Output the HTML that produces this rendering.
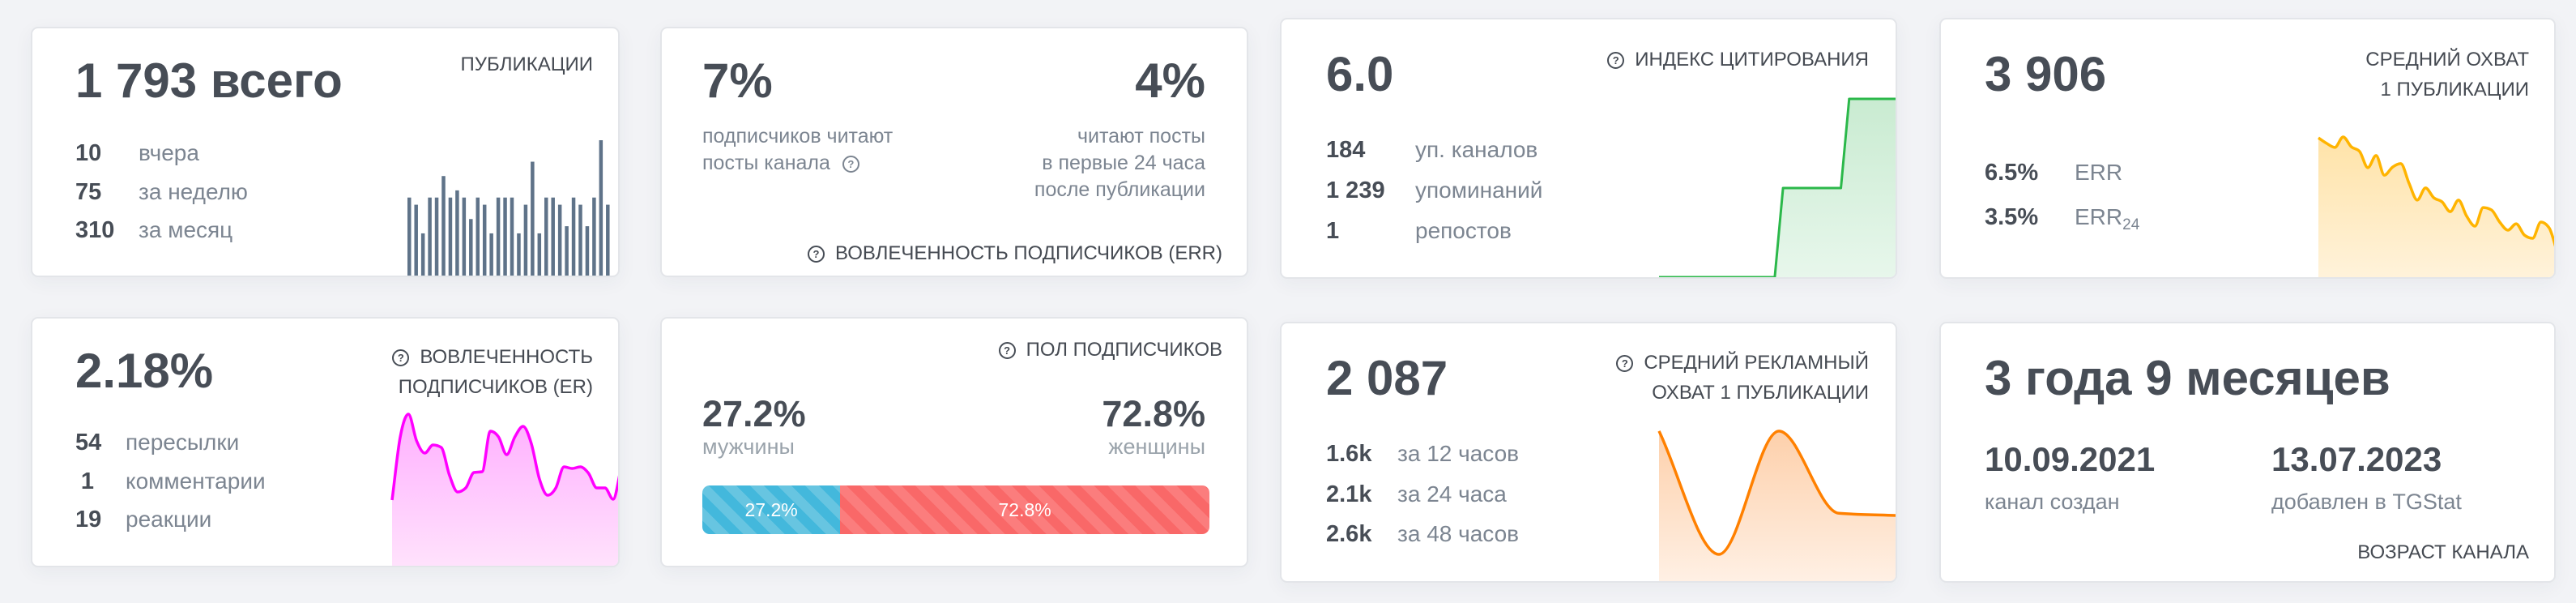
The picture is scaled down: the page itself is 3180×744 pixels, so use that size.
<!DOCTYPE html>
<html><head><meta charset="utf-8">
<style>
html,body{margin:0;padding:0;}
body{width:3180px;height:744px;background:#f2f3f6;position:relative;overflow:hidden;font-family:"Liberation Sans","DejaVu Sans",sans-serif;color:#474d56;}
.card{position:absolute;background:#fff;border:2px solid #e3e5e9;border-radius:9px;box-sizing:border-box;overflow:hidden;box-shadow:0 6px 24px rgba(40,50,70,0.05);}
.a{position:absolute;white-space:nowrap;}
.big{font-size:60px;font-weight:bold;line-height:1;}
.ttl{font-size:24px;line-height:37px;text-align:right;color:#454a52;}
.num{font-size:29px;font-weight:bold;line-height:1;}
.lbl{font-size:28px;line-height:1;color:#7c8591;}
.q{display:inline-block;width:17px;height:17px;border:2px solid #474d56;border-radius:50%;font-size:13px;line-height:17px;text-align:center;font-weight:bold;vertical-align:2px;margin-right:13px;}
.sub{font-size:25px;line-height:33px;color:#7c8591;}
svg{position:absolute;}
</style></head><body>

<div class="card" style="left:38px;top:33px;width:727px;height:309px;">
  <div class="a big" style="left:53px;top:35px;">1 793 всего</div>
  <div class="a ttl" style="right:31px;top:26px;">ПУБЛИКАЦИИ</div>
  <div class="a num" style="left:53px;top:140px;">10</div>
  <div class="a lbl" style="left:131px;top:140px;">вчера</div>
  <div class="a num" style="left:53px;top:188px;">75</div>
  <div class="a lbl" style="left:131px;top:188px;">за неделю</div>
  <div class="a num" style="left:53px;top:235px;">310</div>
  <div class="a lbl" style="left:131px;top:235px;">за месяц</div>
  <svg id="pubChart" style="left:460px;top:135px;" width="265" height="172"></svg>
</div>

<div class="card" style="left:815px;top:33px;width:726px;height:309px;">
  <div class="a big" style="left:50px;top:35px;">7%</div>
  <div class="a big" style="right:51px;top:35px;">4%</div>
  <div class="a sub" style="left:50px;top:117px;">подписчиков читают<br>посты канала <span class="q" style="border-color:#7c8591;color:#7c8591;margin-left:8px;">?</span></div>
  <div class="a sub" style="right:51px;top:117px;text-align:right;">читают посты<br>в первые 24 часа<br>после публикации</div>
  <div class="a ttl" style="right:30px;top:259px;"><span class="q">?</span>ВОВЛЕЧЕННОСТЬ ПОДПИСЧИКОВ (ERR)</div>
</div>

<div class="card" style="left:1580px;top:22px;width:762px;height:322px;">
  <div class="a big" style="left:55px;top:38px;">6.0</div>
  <div class="a ttl" style="right:33px;top:31px;"><span class="q">?</span>ИНДЕКС ЦИТИРОВАНИЯ</div>
  <div class="a num" style="left:55px;top:147px;">184</div>
  <div class="a lbl" style="left:165px;top:147px;">уп. каналов</div>
  <div class="a num" style="left:55px;top:197px;">1 239</div>
  <div class="a lbl" style="left:165px;top:197px;">упоминаний</div>
  <div class="a num" style="left:55px;top:247px;">1</div>
  <div class="a lbl" style="left:165px;top:247px;">репостов</div>
  <svg id="citeChart" style="left:464px;top:76px;" width="298" height="244"></svg>
</div>

<div class="card" style="left:2394px;top:22px;width:761px;height:322px;">
  <div class="a big" style="left:54px;top:38px;">3 906</div>
  <div class="a ttl" style="right:31px;top:31px;">СРЕДНИЙ ОХВАТ<br>1 ПУБЛИКАЦИИ</div>
  <div class="a num" style="left:54px;top:175px;">6.5%</div>
  <div class="a lbl" style="left:165px;top:175px;">ERR</div>
  <div class="a num" style="left:54px;top:230px;">3.5%</div>
  <div class="a lbl" style="left:165px;top:230px;">ERR<sub style="font-size:19px;vertical-align:-6px;">24</sub></div>
  <svg id="reachChart" style="left:464px;top:126px;" width="297" height="194"></svg>
</div>

<div class="card" style="left:38px;top:391px;width:727px;height:309px;">
  <div class="a big" style="left:53px;top:35px;">2.18%</div>
  <div class="a ttl" style="right:31px;top:29px;"><span class="q">?</span>ВОВЛЕЧЕННОСТЬ<br>ПОДПИСЧИКОВ (ER)</div>
  <div class="a num" style="left:53px;top:139px;width:30px;text-align:center;">54</div>
  <div class="a lbl" style="left:115px;top:139px;">пересылки</div>
  <div class="a num" style="left:53px;top:187px;width:30px;text-align:center;">1</div>
  <div class="a lbl" style="left:115px;top:187px;">комментарии</div>
  <div class="a num" style="left:53px;top:234px;width:30px;text-align:center;">19</div>
  <div class="a lbl" style="left:115px;top:234px;">реакции</div>
  <svg id="erChart" style="left:442px;top:105px;" width="285" height="202"></svg>
</div>

<div class="card" style="left:815px;top:391px;width:726px;height:309px;">
  <div class="a ttl" style="right:30px;top:20px;"><span class="q">?</span>ПОЛ ПОДПИСЧИКОВ</div>
  <div class="a" style="left:50px;top:95px;font-size:45px;font-weight:bold;line-height:1;">27.2%</div>
  <div class="a" style="right:51px;top:95px;font-size:45px;font-weight:bold;line-height:1;">72.8%</div>
  <div class="a" style="left:50px;top:145px;font-size:27px;line-height:1;color:#9aa3ab;">мужчины</div>
  <div class="a" style="right:51px;top:145px;font-size:27px;line-height:1;color:#9aa3ab;">женщины</div>
  <div class="a" style="left:50px;top:206px;width:626px;height:60px;border-radius:9px;overflow:hidden;display:flex;">
    <div style="width:27.2%;height:100%;background:repeating-linear-gradient(45deg,#43b8dc 0 12px,#67c5e1 12px 24px);color:#fff;font-size:23px;line-height:60px;text-align:center;">27.2%</div>
    <div style="width:72.8%;height:100%;background:repeating-linear-gradient(45deg,#f96868 0 12px,#fb7d7d 12px 24px);color:#fff;font-size:23px;line-height:60px;text-align:center;">72.8%</div>
  </div>
</div>

<div class="card" style="left:1580px;top:397px;width:762px;height:322px;">
  <div class="a big" style="left:55px;top:38px;">2 087</div>
  <div class="a ttl" style="right:33px;top:30px;"><span class="q">?</span>СРЕДНИЙ РЕКЛАМНЫЙ<br>ОХВАТ 1 ПУБЛИКАЦИИ</div>
  <div class="a num" style="left:55px;top:147px;">1.6k</div>
  <div class="a lbl" style="left:143px;top:147px;">за 12 часов</div>
  <div class="a num" style="left:55px;top:197px;">2.1k</div>
  <div class="a lbl" style="left:143px;top:197px;">за 24 часа</div>
  <div class="a num" style="left:55px;top:246px;">2.6k</div>
  <div class="a lbl" style="left:143px;top:246px;">за 48 часов</div>
  <svg id="adChart" style="left:464px;top:119px;" width="298" height="202"></svg>
</div>

<div class="card" style="left:2394px;top:397px;width:761px;height:322px;">
  <div class="a big" style="left:54px;top:38px;">3 года 9 месяцев</div>
  <div class="a" style="left:54px;top:147px;font-size:42px;font-weight:bold;line-height:1;">10.09.2021</div>
  <div class="a" style="left:408px;top:147px;font-size:42px;font-weight:bold;line-height:1;">13.07.2023</div>
  <div class="a lbl" style="left:54px;top:207px;font-size:27px;">канал создан</div>
  <div class="a lbl" style="left:408px;top:207px;font-size:27px;">добавлен в TGStat</div>
  <div class="a ttl" style="right:31px;top:264px;">ВОЗРАСТ КАНАЛА</div>
</div>

<script>
const pubValues = [11,10,6,11,11,14,11,12,11,8,11,10,6,11,11,11,6,10,16,6,11,11,10,7,11,10,7,11,19,10];
const citeValues = [0,0,0,0,0,0,0,0,0,0,0,0,0,0,0,1,1,1,1,1,1,1,1,2,2,2,2,2,2,2];
const reachValues = [4870,4680,4540,4900,4560,4400,3840,4260,3580,3860,3980,3300,2720,3140,2800,2660,2320,2720,2160,1820,2460,2380,1960,1680,1900,1510,1400,1960,1760,900];
const erValues = [82,160,188,155,140,150,147,113,92,97,116,117,167,160,138,160,173,152,108,88,97,123,121,123,115,97,97,83,123];
const adValues = [2620,490,2620,1200,1160];

const NS = 'http://www.w3.org/2000/svg';
function mk(tag, attrs){ const e=document.createElementNS(NS,tag); for(const k in attrs) e.setAttribute(k,attrs[k]); return e; }

function monotonePath(pts){
  const n=pts.length; if(n<2) return '';
  const dx=[],m=[],t=[];
  for(let i=0;i<n-1;i++){ dx[i]=pts[i+1][0]-pts[i][0]; m[i]=(pts[i+1][1]-pts[i][1])/dx[i]; }
  t[0]=m[0]; t[n-1]=m[n-2];
  for(let i=1;i<n-1;i++){
    if(m[i-1]*m[i]<=0) t[i]=0;
    else { const h0=dx[i-1],h1=dx[i]; const p=(m[i-1]*h1+m[i]*h0)/(h0+h1);
      t[i]=(Math.sign(m[i-1])+Math.sign(m[i]))*Math.min(Math.abs(m[i-1]),Math.abs(m[i]),0.5*Math.abs(p)); }
  }
  let d='M'+pts[0][0]+','+pts[0][1];
  for(let i=0;i<n-1;i++){
    const h=dx[i]/3;
    d+=' C'+(pts[i][0]+h)+','+(pts[i][1]+t[i]*h)+' '+(pts[i+1][0]-h)+','+(pts[i+1][1]-t[i+1]*h)+' '+pts[i+1][0]+','+pts[i+1][1];
  }
  return d;
}
function linearPath(pts){ return pts.map((p,i)=>(i?'L':'M')+p[0]+','+p[1]).join(' '); }

function areaChart(id, values, yMax, x0, x1, bottom, height, stroke, c1, c2, curve, sw){
  const svg=document.getElementById(id);
  const xS=i=>x0+(x1-x0)*i/(values.length-1);
  const yS=v=>bottom-v/yMax*height;
  const pts=values.map((v,i)=>[xS(i),yS(v)]);
  const line=curve==='linear'?linearPath(pts):monotonePath(pts);
  const defs=mk('defs',{});
  const g=mk('linearGradient',{id:id+'g',x1:0,y1:0,x2:0,y2:1});
  g.appendChild(mk('stop',{offset:'0','stop-color':c1}));
  g.appendChild(mk('stop',{offset:'1','stop-color':c2}));
  defs.appendChild(g); svg.appendChild(defs);
  const area=mk('path',{d:line+' L'+x1+','+(bottom+4)+' L'+x0+','+(bottom+4)+' Z',fill:'url(#'+id+'g)'});
  
  
  svg.appendChild(area);
  const ln=mk('path',{d:line,fill:'none',stroke:stroke,'stroke-width':sw,'stroke-linejoin':'round'});
  
  
  svg.appendChild(ln);
}

(function(){
  const svg=document.getElementById('pubChart');
  const bottom=171, height=168, yMax=19, x0=3, step=8.45;
  const yS=v=>v/yMax*height;
  pubValues.forEach((v,i)=>{
    const h=yS(v);
    const r=mk('rect',{x:x0+i*step,y:bottom-h,width:4.5,height:h,fill:'#5f7389'});
    
    
    svg.appendChild(r);
  });
})();

areaChart('citeChart', citeValues, 2, 2, 298, 242, 220, '#2bb84a', '#c9ebd1', '#e8f7ec', 'linear', 3);
areaChart('reachChart', reachValues, 5376, 2, 297, 194, 192, '#ffb400', '#ffe3a8', '#fff3dc', 'monotone', 3.5);
areaChart('erChart', erValues, 200, 2, 285, 201, 200, '#ff00ff', '#ffafff', '#ffe3fc', 'monotone', 3.5);
areaChart('adChart', adValues, 2800, 2, 298, 201, 200, '#ff8000', '#fdd0ab', '#fff1e6', 'monotone', 3.5);
</script>
</body></html>
